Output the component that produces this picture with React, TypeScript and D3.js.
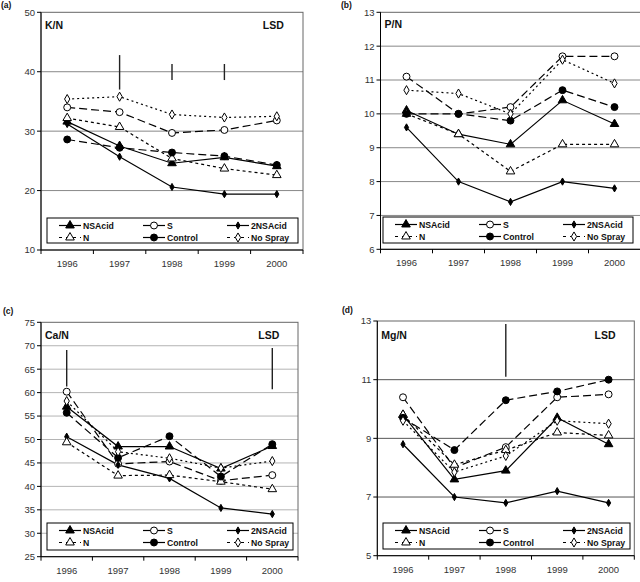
import React from 'react';
import * as d3 from 'd3';

const years = ['1996', '1997', '1998', '1999', '2000'];
const seriesNames = ['NSAcid', 'S', '2NSAcid', 'N', 'Control', 'No Spray'];

// ratio values per series, same order as seriesNames
const knValues = [
  [31.6, 27.5, 24.6, 25.6, 24.1],
  [34.0, 33.2, 29.7, 30.2, 31.8],
  [31.2, 25.7, 20.6, 19.4, 19.4],
  [32.2, 30.7, 25.4, 23.7, 22.6],
  [28.6, 27.2, 26.4, 25.8, 24.3],
  [35.4, 35.8, 32.8, 32.3, 32.5],
];
const pnValues = [
  [10.1, 9.4, 9.1, 10.4, 9.7],
  [11.1, 10.0, 10.2, 11.7, 11.7],
  [9.6, 8.0, 7.4, 8.0, 7.8],
  [10.0, 9.4, 8.3, 9.1, 9.1],
  [10.0, 10.0, 9.8, 10.7, 10.2],
  [10.7, 10.6, 10.0, 11.6, 10.9],
];
const canValues = [
  [57.0, 48.5, 48.5, 43.8, 48.6],
  [60.2, 44.8, 45.3, 41.2, 42.4],
  [50.6, 44.6, 41.7, 35.4, 34.1],
  [49.4, 42.3, 42.4, 41.0, 39.4],
  [55.7, 46.1, 50.7, 42.1, 49.0],
  [58.2, 47.4, 46.0, 43.9, 45.4],
];
const mgnValues = [
  [9.8, 7.6, 7.9, 9.7, 8.8],
  [10.4, 8.0, 8.7, 10.4, 10.5],
  [8.8, 7.0, 6.8, 7.2, 6.8],
  [9.8, 8.1, 8.6, 9.2, 9.1],
  [9.7, 8.6, 10.3, 10.6, 11.0],
  [9.6, 7.85, 8.4, 9.6, 9.5],
];

// LSD bars: [year, low, high]
const knLsd: [string, number, number][] = [['1997', 37.0, 42.8], ['1998', 38.6, 41.3], ['1999', 38.6, 41.3]];
const pnLsd: [string, number, number][] = [];
const canLsd: [string, number, number][] = [['1996', 61.3, 69.1], ['2000', 60.7, 69.5]];
const mgnLsd: [string, number, number][] = [['1998', 11.1, 12.9]];

const knTicks = [10, 20, 30, 40, 50];
const pnTicks = [6, 7, 8, 9, 10, 11, 12, 13];
const canTicks = [25, 30, 35, 40, 45, 50, 55, 60, 65, 70, 75];
const mgnTicks = [5, 7, 9, 11, 13];

type MarkerKind = 'triFill' | 'circOpen' | 'diaFill' | 'triOpen' | 'circFill' | 'diaOpen';

const seriesStyle: { dash: string; legendDash: string; marker: MarkerKind }[] = [
  { dash: '', legendDash: '', marker: 'triFill' },
  { dash: '8,4', legendDash: '', marker: 'circOpen' },
  { dash: '', legendDash: '', marker: 'diaFill' },
  { dash: '3,3', legendDash: '3,4', marker: 'triOpen' },
  { dash: '8,4', legendDash: '', marker: 'circFill' },
  { dash: '2,3', legendDash: '3,4', marker: 'diaOpen' },
];

const FONT = '"Liberation Sans", Arial, sans-serif';

function Marker({ kind, x, y }: { kind: MarkerKind; x: number; y: number }) {
  const filled = kind.endsWith('Fill');
  let type = d3.symbolCircle;
  let size = 38;
  if (kind.startsWith('tri')) { type = d3.symbolTriangle; size = 32; }
  if (kind.startsWith('dia')) { type = d3.symbolDiamond; size = kind === 'diaFill' ? 15 : 24; }
  if (kind === 'circFill') size = 38;
  const path = d3.symbol().type(type).size(size)()!;
  return (
    <path
      d={path}
      transform={`translate(${x},${y})`}
      fill={filled ? '#000' : '#fff'}
      stroke="#000"
      strokeWidth={1}
    />
  );
}

interface PanelCfg {
  tag: string;
  title: string;
  lsd: boolean;
  box: { left: number; top: number; right: number; bottom: number };
  domain: [number, number];
  ticks: number[];
  values: number[][];
  bars: [string, number, number][];
  grid: string;
  legend: { x: number; y: number; w: number; h: number };
  tagPos: [number, number];
  titleY: number;
}

function Panel({ cfg }: { cfg: PanelCfg }) {
  const { left, top, right, bottom } = cfg.box;
  const x = d3.scaleBand<string>().domain(years).range([left, right]);
  const y = d3.scaleLinear().domain(cfg.domain).range([bottom, top]);
  const cx = (yr: string) => x(yr)! + x.bandwidth() / 2;
  const line = d3.line<number>().x((_, i) => cx(years[i])).y(d => y(d));
  const lg = cfg.legend;
  const colX = [12, 96, 180];
  const rowY = [lg.y + 7.5, lg.y + 19.5];

  return (
    <g>
      {/* grid */}
      {cfg.ticks.slice(1, -1).map(t => (
        <line key={t} x1={left} x2={right} y1={y(t)} y2={y(t)} stroke={cfg.grid} strokeWidth={1} />
      ))}
      <rect x={left} y={top} width={right - left} height={bottom - top} fill="none" stroke="#666" strokeWidth={1} />

      {/* LSD bars */}
      {cfg.bars.map(([yr, lo, hi]) => (
        <line key={yr} x1={cx(yr)} x2={cx(yr)} y1={y(lo)} y2={y(hi)} stroke="#222" strokeWidth={1.4} />
      ))}

      {/* series */}
      {cfg.values.map((vals, si) => (
        <path key={si} d={line(vals)!} fill="none" stroke="#000" strokeWidth={1.2}
          strokeDasharray={seriesStyle[si].dash || undefined} />
      ))}
      {cfg.values.map((vals, si) =>
        vals.map((v, i) => <Marker key={`${si}-${i}`} kind={seriesStyle[si].marker} x={cx(years[i])} y={y(v)} />)
      )}

      {/* legend */}
      <rect x={lg.x} y={lg.y} width={lg.w} height={lg.h} fill="#fff" stroke="#000" strokeWidth={1} />
      {seriesNames.map((name, i) => {
        const lx = lg.x + colX[i % 3];
        const ly = rowY[Math.floor(i / 3)];
        const st = seriesStyle[i];
        return (
          <g key={name}>
            <line x1={lx} x2={lx + 22} y1={ly} y2={ly} stroke="#000" strokeWidth={1.2}
              strokeDasharray={st.legendDash || undefined} />
            <Marker kind={st.marker} x={lx + 11} y={ly} />
            <text x={lx + 24} y={ly + 3.2} fontSize={8.7} fontWeight="bold" fontFamily={FONT} fill="#111">{name}</text>
          </g>
        );
      })}

      {/* axes */}
      <line x1={left} x2={left} y1={top} y2={bottom} stroke="#000" strokeWidth={1} />
      <line x1={left} x2={right} y1={bottom} y2={bottom} stroke="#000" strokeWidth={1} />
      {cfg.ticks.map(t => (
        <g key={t}>
          <line x1={left - 4} x2={left} y1={y(t)} y2={y(t)} stroke="#000" />
          <text x={left - 6} y={y(t) + 3.4} textAnchor="end" fontSize={9.5} fontFamily={FONT} fill="#333">{t}</text>
        </g>
      ))}
      {years.map(yr => (
        <line key={yr} x1={x(yr)!} x2={x(yr)!} y1={bottom} y2={bottom + 4} stroke="#000" />
      ))}
      <line x1={right} x2={right} y1={bottom} y2={bottom + 4} stroke="#000" />
      {years.map(yr => (
        <text key={yr} x={cx(yr)} y={bottom + 17} textAnchor="middle" fontSize={9.5} fontFamily={FONT} fill="#333">{yr}</text>
      ))}

      {/* labels */}
      <text x={cfg.tagPos[0]} y={cfg.tagPos[1]} fontSize={8.5} fontWeight="bold" fontFamily={FONT} fill="#111">{cfg.tag}</text>
      <text x={left + 4} y={cfg.titleY} fontSize={10.5} fontWeight="bold" fontFamily={FONT} fill="#111">{cfg.title}</text>
      {cfg.lsd && (
        <text x={cx('2000') + 7} y={cfg.titleY} textAnchor="end" fontSize={10.5} fontWeight="bold" fontFamily={FONT} fill="#111">LSD</text>
      )}
    </g>
  );
}

const panels: PanelCfg[] = [
  {
    tag: '(a)', title: 'K/N', lsd: true,
    box: { left: 41, top: 12.3, right: 303, bottom: 250 },
    domain: [10, 50], ticks: knTicks, values: knValues, bars: knLsd, grid: '#888',
    legend: { x: 47, y: 218, w: 251, h: 25 }, tagPos: [1, 8], titleY: 29,
  },
  {
    tag: '(b)', title: 'P/N', lsd: false,
    box: { left: 380.5, top: 12.3, right: 640.5, bottom: 249.3 },
    domain: [6, 13], ticks: pnTicks, values: pnValues, bars: pnLsd, grid: '#888',
    legend: { x: 383, y: 217, w: 250, h: 26 }, tagPos: [341, 8], titleY: 28,
  },
  {
    tag: '(c)', title: 'Ca/N', lsd: true,
    box: { left: 41, top: 322.3, right: 298, bottom: 556.7 },
    domain: [25, 75], ticks: canTicks, values: canValues, bars: canLsd, grid: '#b4b4b4',
    legend: { x: 47, y: 523, w: 246, h: 27 }, tagPos: [3, 314], titleY: 339,
  },
  {
    tag: '(d)', title: 'Mg/N', lsd: true,
    box: { left: 377.3, top: 321, right: 634.3, bottom: 555.7 },
    domain: [5, 13], ticks: mgnTicks, values: mgnValues, bars: mgnLsd, grid: '#555',
    legend: { x: 383, y: 523, w: 247, h: 26 }, tagPos: [342, 313], titleY: 339,
  },
];

export default function App() {
  return (
    <svg width={640} height={582} style={{ position: 'absolute', left: 0, top: 0, background: '#fff' }}>
      <rect width={640} height={582} fill="#fff" />
      {panels.map(p => <Panel key={p.tag} cfg={p} />)}
    </svg>
  );
}
